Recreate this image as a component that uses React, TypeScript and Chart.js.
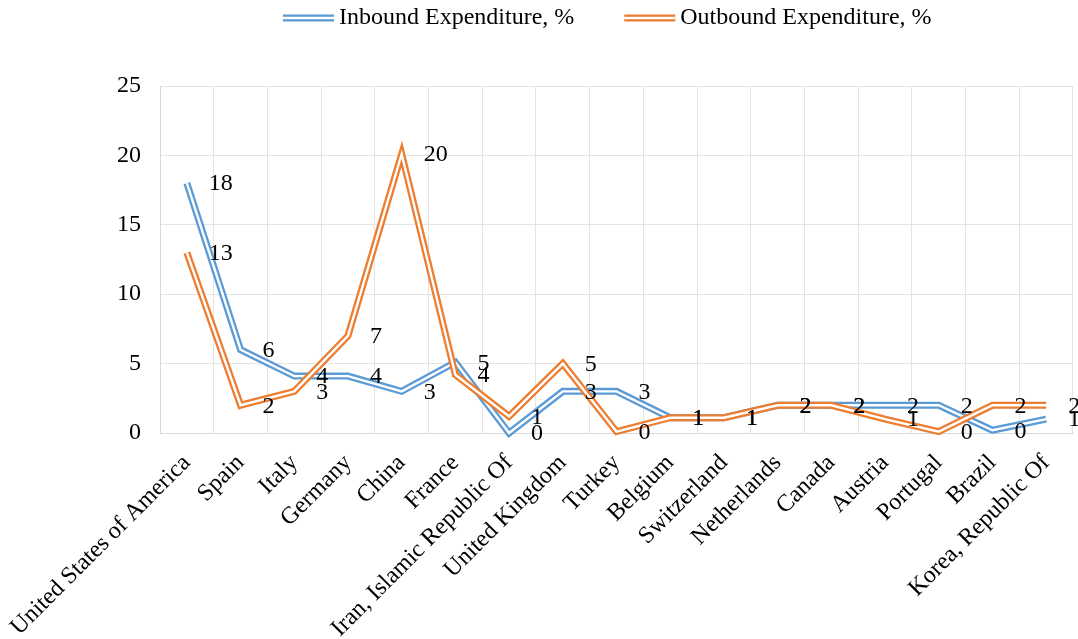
import React, { useEffect, useRef } from "react";
import { Chart, registerables } from "chart.js";

Chart.register(...registerables);

const categories = [
  "United States of America",
  "Spain",
  "Italy",
  "Germany",
  "China",
  "France",
  "Iran, Islamic Republic Of",
  "United Kingdom",
  "Turkey",
  "Belgium",
  "Switzerland",
  "Netherlands",
  "Canada",
  "Austria",
  "Portugal",
  "Brazil",
  "Korea, Republic Of",
];

const inboundValues = [18, 6, 4.1, 4.1, 3, 5.1, 0, 3, 3, 1.1, 1.1, 2, 2, 2, 2, 0.2, 1];
const outboundValues = [13, 2, 3, 7, 20.1, 4.2, 1.2, 5, 0.1, 1.1, 1.1, 2, 2, 1, 0.1, 2, 2];

const yTicks = [0, 5, 10, 15, 20, 25];

const seriesNames = ["Inbound Expenditure, %", "Outbound Expenditure, %"];
const seriesColors = ["#5B9BD5", "#ED7D31"];

const FONT_FAMILY = "'Liberation Serif', 'Times New Roman', serif";
const FONT_SIZE = 24;

const doubleLinePlugin = {
  id: "doubleLine",
  afterDatasetDraw(chart: any, args: any) {
    const line = args.meta.dataset;
    if (!line) return;
    const ctx = chart.ctx;
    ctx.save();
    ctx.beginPath();
    line.path(ctx);
    ctx.lineWidth = 2.4;
    ctx.strokeStyle = "#ffffff";
    ctx.lineJoin = "miter";
    ctx.lineCap = "butt";
    ctx.stroke();
    ctx.restore();
  },
};

const dataLabelPlugin = {
  id: "dataLabels",
  afterDatasetsDraw(chart: any) {
    const ctx = chart.ctx;
    ctx.save();
    ctx.font = `${FONT_SIZE}px ${FONT_FAMILY}`;
    ctx.fillStyle = "#000000";
    ctx.textAlign = "left";
    ctx.textBaseline = "middle";
    chart.data.datasets.forEach((ds: any, i: number) => {
      const meta = chart.getDatasetMeta(i);
      meta.data.forEach((pt: any, j: number) => {
        const v = ds.data[j];
        ctx.fillText(String(Math.round(v)), pt.x + 22, pt.y + 1);
      });
    });
    ctx.restore();
  },
};

const legendPlugin = {
  id: "customLegend",
  afterDraw(chart: any) {
    const ctx = chart.ctx;
    ctx.save();
    ctx.font = `${FONT_SIZE}px ${FONT_FAMILY}`;
    ctx.textBaseline = "middle";
    ctx.textAlign = "left";
    const y = 18;
    let x = 283;
    const sampleLen = 51;
    chart.data.datasets.forEach((ds: any) => {
      ctx.fillStyle = ds.borderColor;
      ctx.fillRect(x, y - 3.5, sampleLen, 7);
      ctx.fillStyle = "#ffffff";
      ctx.fillRect(x, y - 1.2, sampleLen, 2.4);
      ctx.fillStyle = "#000000";
      const tx = x + sampleLen + 5;
      ctx.fillText(ds.label, tx, y);
      x = tx + ctx.measureText(ds.label).width + 50;
    });
    ctx.restore();
  },
};

export default function App() {
  const canvasRef = useRef<HTMLCanvasElement | null>(null);

  useEffect(() => {
    const canvas = canvasRef.current;
    if (!canvas) return;
    const font = { family: FONT_FAMILY, size: FONT_SIZE };
    const chart = new Chart(canvas, {
      type: "line",
      data: {
        labels: categories,
        datasets: [
          {
            label: seriesNames[0],
            data: inboundValues,
            borderColor: seriesColors[0],
            backgroundColor: seriesColors[0],
            borderWidth: 7,
            pointRadius: 0,
            tension: 0,
            borderJoinStyle: "miter",
            order: 2,
            clip: false,
          },
          {
            label: seriesNames[1],
            data: outboundValues,
            borderColor: seriesColors[1],
            backgroundColor: seriesColors[1],
            borderWidth: 7,
            pointRadius: 0,
            tension: 0,
            borderJoinStyle: "miter",
            order: 1,
            clip: false,
          },
        ],
      },
      options: {
        animation: false,
        responsive: false,
        maintainAspectRatio: false,
        layout: { padding: { top: 86, right: 5, left: 0, bottom: 0 } },
        plugins: {
          legend: { display: false },
          tooltip: { enabled: false },
        },
        scales: {
          x: {
            offset: true,
            grid: { offset: true, color: "#e4e4e4", drawTicks: false },
            border: { color: "#d9d9d9" },
            ticks: {
              autoSkip: false,
              minRotation: 45,
              maxRotation: 45,
              font,
              color: "#000000",
              padding: 16,
            },
            afterFit: (s: any) => {
              s.height = 206;
              s.paddingLeft = 0;
              s.paddingRight = 0;
            },
          },
          y: {
            min: 0,
            max: 25,
            grid: { color: "#e4e4e4", drawTicks: false },
            border: { color: "#d9d9d9" },
            ticks: { font, color: "#000000", padding: 19 },
            afterBuildTicks: (s: any) => {
              s.ticks = yTicks.map((v) => ({ value: v }));
            },
            afterFit: (s: any) => {
              s.width = 160;
              s.paddingTop = 0;
              s.paddingBottom = 0;
            },
          },
        },
      },
      plugins: [doubleLinePlugin, dataLabelPlugin, legendPlugin],
    } as any);
    return () => chart.destroy();
  }, []);

  return (
    <div style={{ position: "fixed", left: 0, top: 0, width: 1078, height: 639, background: "#fff" }}>
      <canvas ref={canvasRef} width={1078} height={639} style={{ display: "block" }} />
    </div>
  );
}
